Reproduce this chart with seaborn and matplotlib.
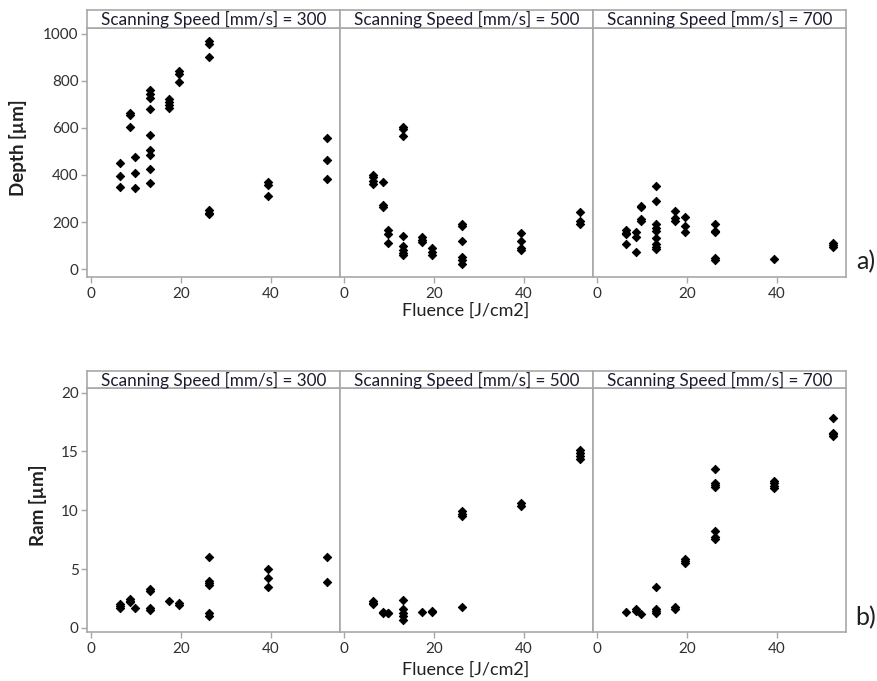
import matplotlib
matplotlib.use("Agg")
import matplotlib.pyplot as plt
import seaborn as sns
import pandas as pd

# ---------------- data ----------------
fluence = [6.5, 8.7, 9.8, 13.1, 17.4, 19.6, 26.2, 39.3, 52.4]
speeds = [300, 500, 700]

depth_300 = [[450, 395, 350], [665, 655, 605], [475, 410, 345],
             [760, 745, 728, 680, 568, 505, 483, 426, 364], [722, 710, 697, 685],
             [840, 830, 793], [968, 955, 902, 250, 240, 235], [370, 358, 312], [555, 465, 381]]
depth_500 = [[400, 390, 375, 362], [370, 272, 265], [165, 150, 110],
             [605, 595, 565, 142, 100, 80, 68, 62], [135, 125, 115], [90, 72, 62],
             [193, 185, 121, 50, 38, 22], [152, 118, 90, 82], [242, 203, 190]]
depth_700 = [[166, 155, 150, 107], [160, 138, 75], [270, 262, 214, 206],
             [352, 291, 190, 177, 163, 132, 109, 95, 85], [249, 217, 203], [220, 182, 156],
             [194, 163, 156, 47, 40], [45], [113, 104, 96]]

ram_300 = [[2.0, 1.85, 1.65], [2.45, 2.3, 2.2], [1.7], [3.3, 3.1, 1.7, 1.5], [2.3],
           [2.1, 1.95], [6.0, 3.95, 3.8, 3.65, 1.3, 1.0], [5.0, 4.2, 3.45], [6.0, 3.9]]
ram_500 = [[2.3, 2.1, 2.0], [1.35, 1.25], [1.3, 1.25], [2.35, 1.6, 1.3, 1.0, 0.7], [1.35],
           [1.45, 1.35], [9.9, 9.7, 9.55, 1.75], [10.6, 10.4], [15.1, 14.85, 14.6, 14.4]]
ram_700 = [[1.35], [1.6, 1.45], [1.2], [3.45, 1.6, 1.45, 1.3], [1.75, 1.6], [5.9, 5.7, 5.55],
           [13.5, 12.35, 12.15, 12.0, 8.2, 7.75, 7.55], [12.5, 12.3, 12.1, 11.9],
           [17.85, 16.6, 16.45, 16.3]]

x_ticks = [0, 20, 40]
depth_ticks = [0, 200, 400, 600, 800, 1000]
ram_ticks = [0, 5, 10, 15, 20]


def to_frame(groups, speed, name):
    rows = []
    for f, vals in zip(fluence, groups):
        for v in vals:
            rows.append({"Fluence": f, name: v, "Speed": speed})
    return pd.DataFrame(rows)


depth_df = pd.concat([to_frame(g, s, "Depth") for g, s in
                      zip([depth_300, depth_500, depth_700], speeds)])
ram_df = pd.concat([to_frame(g, s, "Ram") for g, s in
                    zip([ram_300, ram_500, ram_700], speeds)])

# ---------------- style ----------------
sns.set_theme(style="white")
plt.rcParams["font.family"] = ["Lato", "DejaVu Sans"]

W, H = 877, 681
fig = plt.figure(figsize=(W / 100, H / 100), dpi=100)

GRAY = "#a8a8a8"
TXT = "#303030"


def px_axes(x0, y0, x1, y1):
    return fig.add_axes([x0 / W, 1 - y1 / H, (x1 - x0) / W, (y1 - y0) / H])


cols = [(87, 340), (340, 593), (593, 846)]
rows = [
    dict(df=depth_df, var="Depth", strip=(10, 27.5), ax=(27.5, 277), ylim=(-33, 1026),
         yticks=depth_ticks, ylabel="Depth [µm]", ylab_x=18, tag="a)", tag_y=262, xlab_y=311),
    dict(df=ram_df, var="Ram", strip=(371, 388), ax=(388, 632), ylim=(-0.35, 20.4),
         yticks=ram_ticks, ylabel="Ram [µm]", ylab_x=38, tag="b)", tag_y=618, xlab_y=670),
]

for r in rows:
    for i, ((x0, x1), sp) in enumerate(zip(cols, speeds)):
        ax = px_axes(x0, r["ax"][0], x1, r["ax"][1])
        sub = r["df"][r["df"]["Speed"] == sp]
        sns.scatterplot(data=sub, x="Fluence", y=r["var"], ax=ax, marker="D",
                        s=18, color="black", edgecolor="black", linewidth=0.7, legend=False)
        ax.set_xlim(-0.9, 55.3)
        ax.set_ylim(*r["ylim"])
        ax.set_xticks(x_ticks)
        ax.set_xlabel("")
        ax.set_ylabel("")
        for sp_ in ax.spines.values():
            sp_.set_color(GRAY)
            sp_.set_linewidth(1.2)
        ax.tick_params(axis="x", direction="out", length=4, width=1, color=GRAY,
                       labelsize=11, labelcolor=TXT, pad=3, bottom=True)
        ax.set_yticks(r["yticks"])
        if i == 0:
            ax.tick_params(axis="y", direction="out", length=4, width=1, color=GRAY,
                           labelsize=11, labelcolor=TXT, pad=2, left=True)
        else:
            ax.tick_params(axis="y", left=False, labelleft=False)
        # strip
        sax = px_axes(x0, r["strip"][0], x1, r["strip"][1])
        sax.set_xticks([])
        sax.set_yticks([])
        for sp_ in sax.spines.values():
            sp_.set_color(GRAY)
            sp_.set_linewidth(1.2)
        sax.text(0.5, 0.45, f"Scanning Speed [mm/s] = {sp}", ha="center", va="center",
                 fontsize=12.3, color="#1c1c30", transform=sax.transAxes)
    fig.text(r["ylab_x"] / W, 1 - ((r["ax"][0] + r["ax"][1]) / 2 - 5) / H, r["ylabel"],
             rotation=90, ha="center", va="center", fontsize=13.5, color="#202020",
             fontweight="bold")
    fig.text(466 / W, 1 - r["xlab_y"] / H, "Fluence [J/cm2]", ha="center", va="center",
             fontsize=13, color="#202020")
    fig.text(866 / W, 1 - r["tag_y"] / H, r["tag"], ha="center", va="center",
             fontsize=18, color="#202020")

fig.savefig("out.png", dpi=100, facecolor="white")
